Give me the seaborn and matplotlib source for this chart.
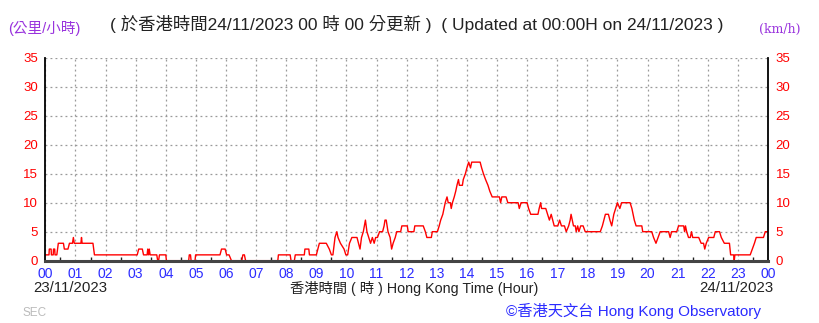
import matplotlib
matplotlib.use("Agg")
import matplotlib.pyplot as plt
import seaborn as sns
import pandas as pd
from matplotlib.ticker import MultipleLocator

# ---- data (hours since 00:00 on 23/11/2023, wind speed km/h) ----
hours = [0.00, 0.12, 0.13, 0.19, 0.20, 0.26, 0.27, 0.31, 0.32, 0.38, 0.43, 0.60, 0.63, 0.75,
         0.80, 0.90, 0.93, 0.96, 1.18, 1.20, 1.22, 1.58, 1.63, 3.05, 3.10, 3.22, 3.26, 3.38,
         3.40, 3.43, 3.45, 3.48, 3.70, 3.73, 3.76, 3.79, 4.00, 4.02, 4.76, 4.78, 4.82, 4.84,
         4.97, 4.99, 5.80, 5.85, 5.97, 6.02, 6.10, 6.18, 6.52, 6.56, 6.61, 6.65, 7.72, 7.74,
         8.13, 8.16, 8.27, 8.30, 8.60, 8.62, 8.75, 8.77, 9.00, 9.10, 9.33, 9.43, 9.50, 9.55,
         9.62, 9.68, 9.72, 9.80, 9.92, 9.98, 10.04, 10.10, 10.18, 10.35, 10.40, 10.45, 10.50,
         10.56, 10.63, 10.68, 10.74, 10.80, 10.86, 10.92, 10.97, 11.03, 11.10, 11.20, 11.25,
         11.28, 11.32, 11.38, 11.45, 11.50, 11.55, 11.62, 11.67, 11.80, 11.84, 12.02, 12.05,
         12.24, 12.27, 12.55, 12.62, 12.67, 12.82, 12.85, 13.02, 13.08, 13.13, 13.20, 13.24,
         13.28, 13.34, 13.38, 13.45, 13.48, 13.52, 13.58, 13.63, 13.67, 13.72, 13.75, 13.85,
         13.88, 13.95, 14.00, 14.06, 14.12, 14.16, 14.44, 14.49, 14.55, 14.62, 14.70, 14.76,
         14.84, 15.08, 15.12, 15.16, 15.30, 15.36, 15.70, 15.74, 15.80, 16.00, 16.05, 16.12,
         16.36, 16.40, 16.45, 16.48, 16.62, 16.68, 16.74, 16.80, 16.85, 16.90, 17.02, 17.08,
         17.14, 17.24, 17.30, 17.38, 17.43, 17.46, 17.54, 17.60, 17.63, 17.68, 17.72, 17.78,
         17.86, 17.93, 18.43, 18.50, 18.55, 18.60, 18.70, 18.75, 18.81, 18.88, 18.94, 19.00,
         19.08, 19.14, 19.42, 19.48, 19.52, 19.56, 19.62, 19.81, 19.84, 20.14, 20.20, 20.28,
         20.35, 20.42, 20.70, 20.75, 20.80, 20.97, 21.03, 21.20, 21.23, 21.26, 21.30, 21.36,
         21.42, 21.46, 21.50, 21.70, 21.78, 21.86, 21.90, 21.95, 22.03, 22.20, 22.25, 22.39,
         22.45, 22.55, 22.72, 22.76, 22.86, 22.88, 22.90, 23.41, 23.48, 23.55, 23.61, 23.85,
         23.91, 24.00]
speeds = [1, 1, 2, 2, 1, 1, 2, 2, 1, 1, 3, 3, 2, 2,
          3, 3, 4, 3, 3, 4, 3, 3, 1, 1, 2, 2, 1, 1,
          2, 1, 2, 1, 1, 0, 0, 1, 1, 0, 0, 1, 1, 0,
          0, 1, 1, 2, 2, 1, 1, 0, 0, 1, 1, 0, 0, 1,
          1, 0, 0, 1, 1, 2, 2, 1, 1, 3, 3, 2, 1, 1,
          4, 5, 4, 3, 2, 1, 1, 3, 4, 4, 3, 2, 4,
          5, 7, 5, 4, 3, 4, 3, 4, 4, 5, 5, 6,
          7, 7, 5, 4, 2, 3, 4, 5, 5, 6, 6, 5,
          5, 6, 6, 5, 4, 4, 5, 5, 6, 7, 8, 9,
          10, 11, 10, 10, 9, 10, 11, 12, 13, 14, 13, 13,
          14, 15, 16, 17, 16, 17, 17, 16, 15, 14, 13, 12,
          11, 11, 10, 11, 11, 10, 10, 9, 10, 10, 9, 8,
          8, 9, 10, 9, 9, 8, 7, 8, 7, 6, 6, 7,
          6, 6, 5, 6, 7, 8, 6, 6, 5, 6, 5, 6,
          6, 5, 5, 6, 7, 8, 8, 7, 6, 8, 9, 10,
          9, 10, 10, 9, 8, 7, 6, 6, 5, 5, 4, 3,
          4, 5, 5, 4, 5, 5, 6, 6, 5, 6, 5, 4,
          4, 5, 4, 4, 3, 3, 2, 3, 4, 4, 5, 5,
          4, 3, 3, 1, 1, 0, 1, 1, 2, 3, 4, 4,
          5, 5]
x_tick_labels = ["00", "01", "02", "03", "04", "05", "06", "07", "08", "09", "10", "11", "12",
                 "13", "14", "15", "16", "17", "18", "19", "20", "21", "22", "23", "00"]
y_ticks = [0, 5, 10, 15, 20, 25, 30, 35]

df = pd.DataFrame({"hour": hours, "speed": speeds})

sns.set_style("white")
plt.rcParams["font.family"] = ["Liberation Sans", "Noto Sans CJK TC", "DejaVu Sans"]

fig = plt.figure(figsize=(8.19, 3.23), dpi=100)
ax = fig.add_axes([0.0554, 0.193, 0.8823, 0.628])

sns.lineplot(data=df, x="hour", y="speed", ax=ax, color="#ff0000", linewidth=1.0,
             estimator=None, sort=False)

ax.set_xlim(0, 24)
ax.set_ylim(0, 35)
ax.set_xticks(range(25))
ax.set_xticklabels(x_tick_labels)
ax.xaxis.set_minor_locator(MultipleLocator(0.5))
ax.set_yticks(y_ticks)
ax.set_yticklabels([str(v) for v in y_ticks])
ax.set_xlabel("")
ax.set_ylabel("")

ax.grid(True, which="major", color="#999999", linestyle=(0, (1.5, 2.5)), linewidth=0.9)
ax.set_axisbelow(True)

for side in ["left", "right"]:
    ax.spines[side].set_color("black")
    ax.spines[side].set_linewidth(1.3)
ax.spines["top"].set_visible(False)
ax.spines["bottom"].set_color("#444444")
ax.spines["bottom"].set_linewidth(2.2)

ax.tick_params(axis="y", which="both", left=False, right=False, labelleft=True,
               labelright=True, labelcolor="#ff0000", labelsize=9.5, pad=2)
ax.tick_params(axis="x", which="major", bottom=False, labelcolor="#2b2bff", labelsize=10, pad=1)
ax.tick_params(axis="x", which="minor", bottom=True, direction="in", length=3, width=1,
               color="#222222")

# texts
fig.text(0.010, 0.913, "(公里/小時)", color="#9933dd", fontsize=10.5, ha="left", va="center")
fig.text(0.134, 0.925, "( 於香港時間24/11/2023 00 時 00 分更新 )  ( Updated at 00:00H on 24/11/2023 )",
         color="#222222", fontsize=12.5, ha="left", va="center")
fig.text(0.977, 0.910, "(km/h)", color="#9933dd", fontsize=9, ha="right", va="center",
         family=["DejaVu Serif"])
fig.text(0.040, 0.108, "23/11/2023", color="#222222", fontsize=10.8, ha="left", va="center")
fig.text(0.506, 0.108, "香港時間 ( 時 ) Hong Kong Time (Hour)", color="#222222", fontsize=10.3,
         ha="center", va="center")
fig.text(0.944, 0.108, "24/11/2023", color="#222222", fontsize=10.8, ha="right", va="center")
fig.text(0.028, 0.030, "SEC", color="#bbbbbb", fontsize=8.5, ha="left", va="center")
fig.text(0.929, 0.037, "©香港天文台 Hong Kong Observatory", color="#2b2bff", fontsize=11,
         ha="right", va="center")

fig.savefig("out.png", dpi=100)
